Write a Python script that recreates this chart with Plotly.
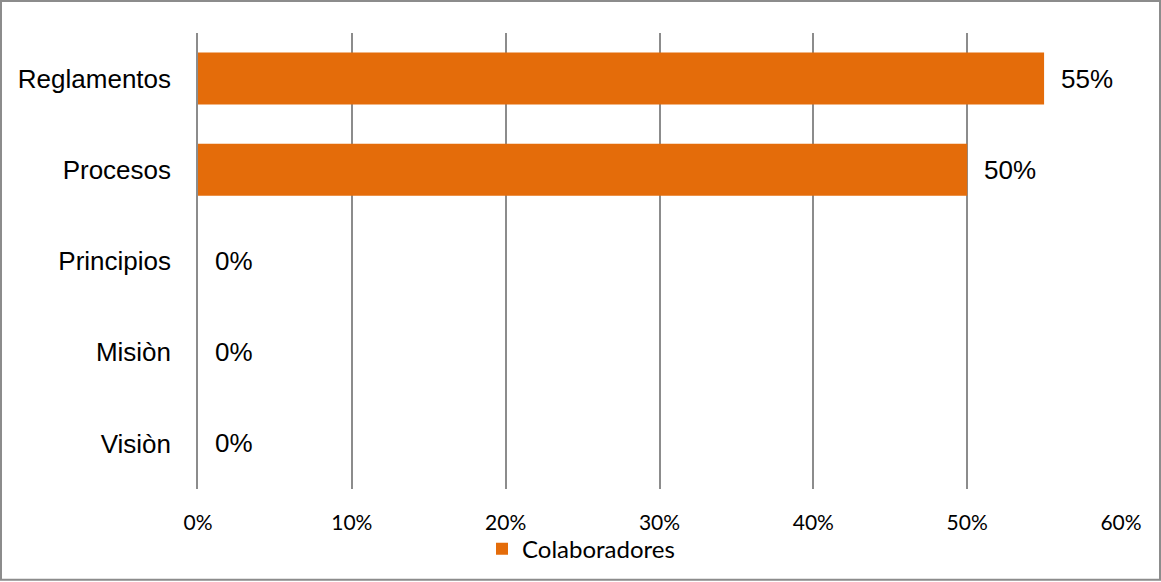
import plotly.graph_objects as go

categories = ["Visiòn", "Misiòn", "Principios", "Procesos", "Reglamentos"]
values = [0, 0, 0, 50, 55]
labels = ["0%", "0%", "0%", "50%", "55%"]
tick_vals = [0, 10, 20, 30, 40, 50, 60]
tick_text = ["0%", "10%", "20%", "30%", "40%", "50%", "60%"]
series_name = "Colaboradores"

W, H = 1161, 582
L, R, T, B = 198, 40, 33, 92
pw, ph = W - L - R, H - T - B

fig = go.Figure()
fig.add_trace(go.Bar(
    y=categories, x=values, orientation="h", name=series_name,
    marker=dict(color="#E46C0A", line=dict(width=0)),
    showlegend=True,
))

for c, v, t in zip(categories, values, labels):
    fig.add_annotation(x=v, y=c, text=t, showarrow=False, xanchor="left",
                       xshift=15, font=dict(family="Liberation Sans, Arial", size=26, color="#000"))

fig.add_shape(type="rect", xref="paper", yref="paper",
              x0=(1 - L) / pw, x1=(W - 1 - L) / pw,
              y0=-(H - 1 - T - ph) / ph, y1=1 + (T - 1) / ph,
              line=dict(color="#8c8c8c", width=2), layer="above")

fig.update_layout(
    width=W, height=H,
    margin=dict(l=L, r=R, t=T, b=B),
    paper_bgcolor="white", plot_bgcolor="white",
    bargap=0.43,
    xaxis=dict(range=[0, 60], tickvals=tick_vals, ticktext=tick_text,
               showgrid=True, gridcolor="#8c8c8c", gridwidth=1.5,
               zeroline=False, showline=False, ticks="",
               ticklabelstandoff=19,
               tickfont=dict(family="Lato, Open Sans", size=21, color="#000")),
    yaxis=dict(showgrid=False, showline=True, linecolor="#8c8c8c", linewidth=1.5,
               ticks="", ticklabelstandoff=20, zeroline=False,
               tickfont=dict(family="Liberation Sans, Arial", size=26, color="#000")),
    legend=dict(orientation="h", x=(482 - L) / pw, xanchor="left",
                y=-0.08, yanchor="top",
                font=dict(family="Lato, Open Sans", size=24, color="#000"),
                itemwidth=30, bgcolor="rgba(0,0,0,0)"),
)

fig.write_html("out.html", config={"displayModeBar": False},
               post_script="document.body.style.margin='0';document.body.style.overflow='hidden';")
